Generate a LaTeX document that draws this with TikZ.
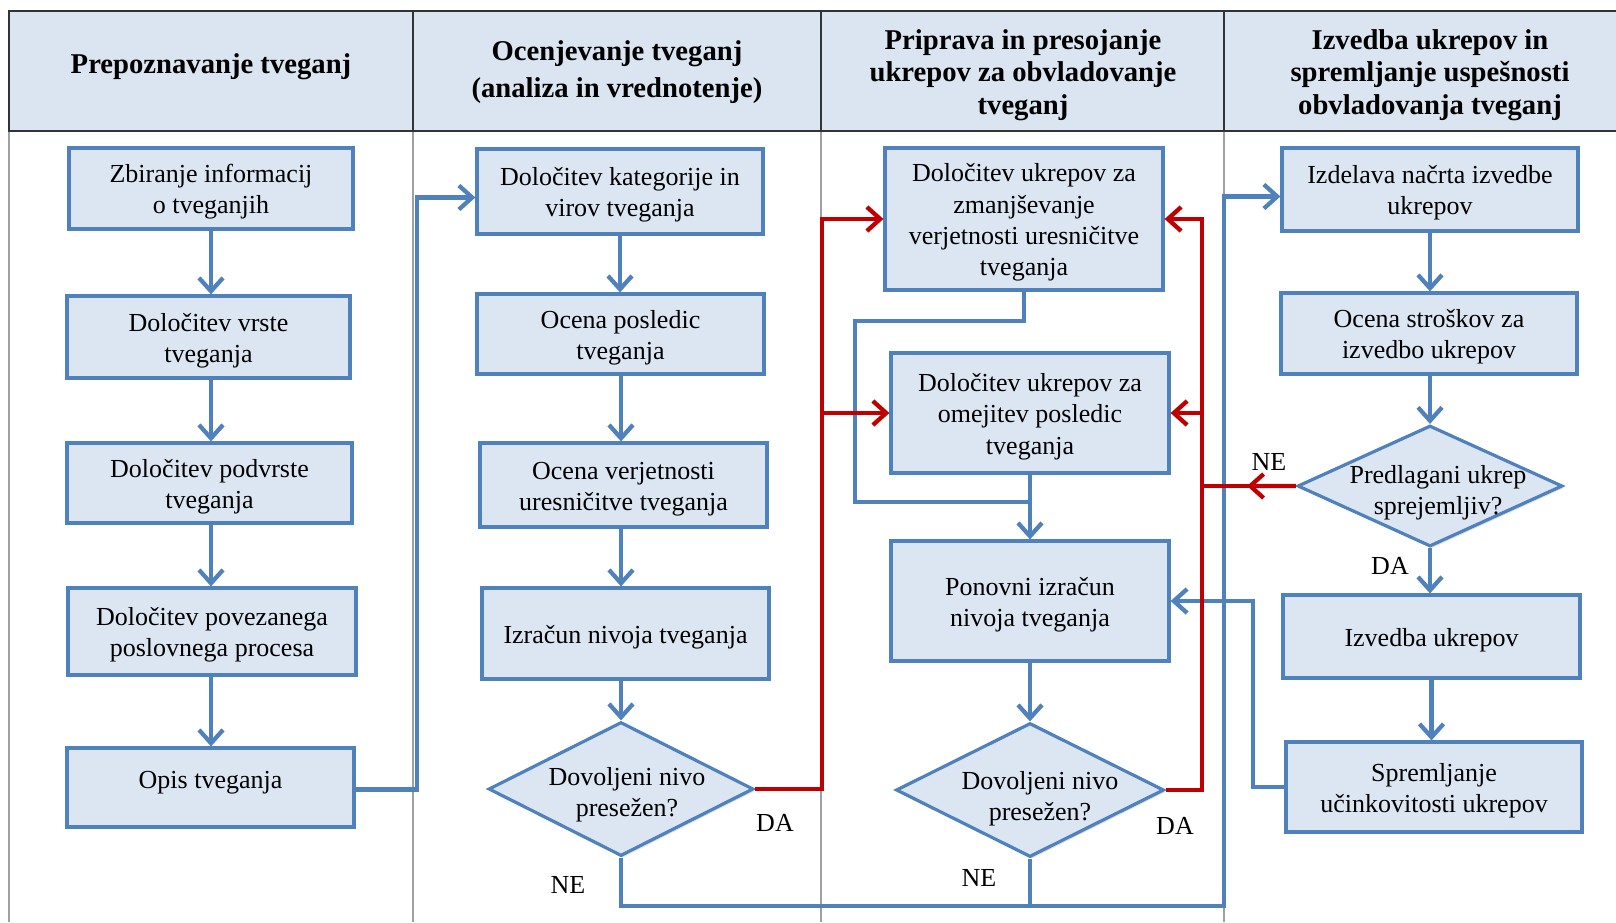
\documentclass[tikz,border=0pt]{standalone}
\usepackage{fontspec}
\setmainfont{Liberation Serif}
\usetikzlibrary{arrows.meta,shapes.geometric,calc,shadows}

\definecolor{boxfill}{HTML}{DCE6F2}
\definecolor{boxline}{HTML}{4F81BD}
\definecolor{redline}{HTML}{C00000}
\definecolor{headfill}{HTML}{DBE5F1}
\definecolor{bodyrule}{HTML}{A0A0A0}

\tikzset{
  procbox/.style={draw=boxline, fill=boxfill, line width=2.4pt, inner sep=0pt,
    align=center, font=\fontsize{19.5}{23.5}\selectfont,
    drop shadow={opacity=0.25, shadow xshift=1.5pt, shadow yshift=-1.5pt}},
  decision/.style={diamond, draw=boxline, fill=boxfill, line width=2.4pt, inner sep=0pt,
    drop shadow={opacity=0.25, shadow xshift=1.5pt, shadow yshift=-1.5pt}},
  dtext/.style={align=center, inner sep=0pt, font=\fontsize{19.5}{23.5}\selectfont},
  lbl/.style={inner sep=0pt, font=\fontsize{19.5}{23.5}\selectfont},
  headtext/.style={align=center, inner sep=0pt, font=\fontsize{21.5}{24.5}\selectfont\bfseries},
  bline/.style={draw=boxline, line width=3.2pt},
  barrow/.style={bline, -{Straight Barb[length=10pt,width=18pt]}},
  rline/.style={draw=redline, line width=3.2pt},
  rarrow/.style={rline, -{Straight Barb[length=10pt,width=18pt]}},
  headrule/.style={draw=black!80, line width=1.2pt},
  gridrule/.style={draw=bodyrule, line width=0.8pt}
}

% box from its corners (x1,y1)-(x2,y2), in pixel units; text set a little low
\newcommand\stepnode[6]{%
  \node[procbox, minimum width={(#4-#2)*0.75pt}, minimum height={(#5-#3)*0.75pt}]
    (#1) at ({(#2+#4)/2},{(#3+#5)/2})
    {\raisebox{-2.6pt}[\height][\depth]{\begin{tabular}{@{}c@{}}#6\end{tabular}}};}
% decision diamond from its centre and size
\newcommand\decnode[5]{%
  \node[decision, minimum width={#4*0.75pt}, minimum height={#5*0.75pt}]
    (#1) at (#2,#3) {};}

\begin{document}
\begin{tikzpicture}[x=0.75pt,y=-0.75pt]
\useasboundingbox (0,0) rectangle (1616,922);

% ---- table: header band and column rules
\fill[headfill] (9,11) rectangle (1616,131);
\draw[gridrule] (9,131) -- (9,922);
\draw[gridrule] (413,131) -- (413,922);
\draw[gridrule] (821,131) -- (821,922);
\draw[gridrule] (1224,131) -- (1224,922);
\draw[headrule] (1616,11) -- (9,11) -- (9,131) -- (1616,131);
\draw[headrule] (413,11) -- (413,131);
\draw[headrule] (821,11) -- (821,131);
\draw[headrule] (1224,11) -- (1224,131);

\node[headtext] (h1) at (211,67) {Prepoznavanje tveganj};
\node[headtext] (h2) at (617,72) {Ocenjevanje tveganj\\[3pt](analiza in vrednotenje)};
\node[headtext] (h3) at (1023,75) {Priprava in presojanje\\ukrepov za obvladovanje\\tveganj};
\node[headtext] (h4) at (1430,75) {Izvedba ukrepov in\\spremljanje uspešnosti\\obvladovanja tveganj};

% ---- column 1
\stepnode{z1}{69}{148}{353}{229}{Zbiranje informacij\\o tveganjih}
\stepnode{z2}{67}{296}{350}{378}{Določitev vrste\\tveganja}
\stepnode{z3}{67}{443}{352}{523}{Določitev podvrste\\tveganja}
\stepnode{z4}{68}{588}{356}{675}{Določitev povezanega\\poslovnega procesa}
\node[procbox, minimum width={287*0.75pt}, minimum height={79*0.75pt},
      text depth=12pt] (z5) at (210.5,787.5) {Opis tveganja};

% ---- column 2
\stepnode{o1}{477}{149}{763}{234}{Določitev kategorije in\\virov tveganja}
\stepnode{o2}{477}{294}{764}{374}{Ocena posledic\\tveganja}
\stepnode{o3}{480}{443}{767}{527}{Ocena verjetnosti\\uresničitve tveganja}
\stepnode{o4}{482}{588}{769}{679}{Izračun nivoja tveganja}
\decnode{d1}{621}{789}{265}{134}
\node[dtext] (d1t) at (627,795) {Dovoljeni nivo\\presežen?};

% ---- column 3
\stepnode{p1}{885}{148}{1163}{290}{Določitev ukrepov za\\zmanjševanje\\verjetnosti uresničitve\\tveganja}
\stepnode{p2}{891}{353}{1169}{473}{Določitev ukrepov za\\omejitev posledic\\tveganja}
\stepnode{p3}{891}{541}{1169}{661}{Ponovni izračun\\nivoja tveganja}
\decnode{d2}{1030}{790}{268}{134}
\node[dtext] (d2t) at (1040,799) {Dovoljeni nivo\\presežen?};

% ---- column 4
\stepnode{i1}{1282}{148}{1578}{231}{Izdelava načrta izvedbe\\ukrepov}
\stepnode{i2}{1281}{293}{1577}{374}{Ocena stroškov za\\izvedbo ukrepov}
\decnode{d3}{1430}{486}{265}{121}
\node[dtext] (d3t) at (1438,493) {Predlagani ukrep\\sprejemljiv?};
\stepnode{i3}{1283}{595}{1580}{678}{Izvedba ukrepov}
\stepnode{i4}{1286}{742}{1582}{832}{Spremljanje\\učinkovitosti ukrepov}

% ---- routing columns
\coordinate (xa) at (417,0);
\coordinate (xr1) at (822,0);
\coordinate (xr2) at (1202,0);
\coordinate (xb) at (1224,0);
\coordinate (xc) at (1253,0);
\coordinate (yb) at (0,906);
\coordinate (j1) at (855,321);
\coordinate (j2) at (1030,502);

% ---- column 1 flow
\draw[barrow] (z1.south) -- (z1.south |- z2.north);
\draw[barrow] (z2.south -| z1.south) -- (z1.south |- z3.north);
\draw[barrow] (z3.south -| z1.south) -- (z1.south |- z4.north);
\draw[barrow] (z4.south -| z1.south) -- (z1.south |- z5.north);
\draw[barrow] ([yshift=-1.5pt]z5.east) -| ([yshift=-4.5pt]xa |- o1.west) -- ([yshift=-4.5pt]o1.west);

% ---- column 2 flow
\draw[barrow] (o1.south) -- (o1.south |- o2.north);
\draw[barrow] (o2.south -| d1.north) -- (d1.north |- o3.north);
\draw[barrow] (o3.south -| d1.north) -- (d1.north |- o4.north);
\draw[barrow] (o4.south -| d1.north) -- (d1.north);

% ---- column 3 flow
\draw[bline] (p1.south) -- (p1.south |- j1) -- (j1) -- (j1 |- j2) -- (j2);
\draw[barrow] (p2.south) -- (p3.north);
\draw[barrow] (p3.south) -- (d2.north);

% ---- column 4 flow
\draw[barrow] (i1.south) -- (i1.south |- i2.north);
\draw[barrow] (i2.south -| d3.north) -- (d3.north);
\draw[barrow] (d3.south) -- (d3.south |- i3.north);
\draw[barrow] (i3.south) -- (i3.south |- i4.north);
\draw[barrow] (i4.west) -| (xc |- p3.east) -- (p3.east);

% ---- NE path back to the start of column 4
\draw[bline] (d2.south) -- (d2.south |- yb);
\draw[barrow] (d1.south) -- (d1.south |- yb) -| ([yshift=-5.25pt]xb |- i1.west) -- ([yshift=-5.25pt]i1.west);

% ---- DA paths (red)
\draw[rarrow] (d1.east) -| (xr1 |- p1.west) -- (p1.west);
\draw[rarrow] (xr1 |- p2.west) -- (p2.west);
\draw[rarrow] (d2.east) -| (xr2 |- p1.east) -- (p1.east);
\draw[rarrow] (xr2 |- p2.east) -- (p2.east);
\draw[rline] (d3.west) -- (xr2 |- d3.west);
\draw[rarrow] (d3.west) -- ($(d3.west)!0.52!(xr2 |- d3.west)$);

% ---- branch labels
\node[lbl] (ne1) at (568,885) {NE};
\node[lbl] (da1) at (775,823) {DA};
\node[lbl] (ne2) at (979,878) {NE};
\node[lbl] (da2) at (1175,826) {DA};
\node[lbl] (ne3) at (1269,462) {NE};
\node[lbl] (da3) at (1390,566) {DA};
\end{tikzpicture}
\end{document}
